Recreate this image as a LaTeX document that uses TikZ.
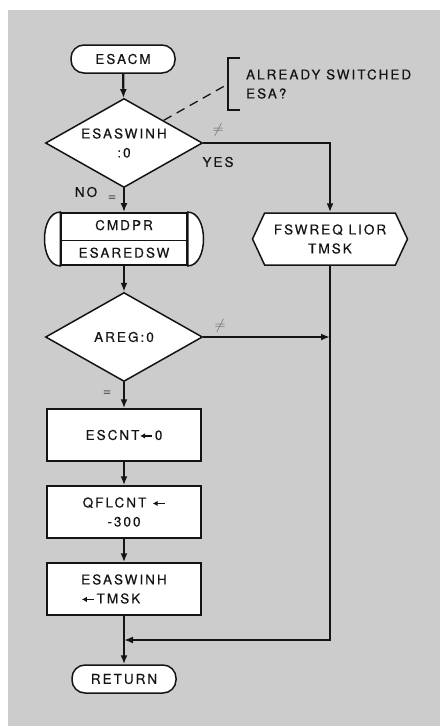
\documentclass[tikz,border=0pt]{standalone}
\usepackage{fontspec}
\setmainfont{TeX Gyre Heros}[LetterSpace=15, FakeBold=0.4]
\usetikzlibrary{shapes.geometric,shapes.symbols,shapes.multipart,arrows.meta}
\definecolor{paper}{RGB}{204,204,204}
\definecolor{ink}{RGB}{20,20,20}
% assignment arrow as printed in the boxes
\newcommand{\asgn}{\tikz[baseline=-4pt]\draw[ink, line width=1.2pt, {Latex[length=5pt,width=5.5pt]}-] (0pt,0pt) -- (12pt,0pt);}

\begin{document}
\begin{tikzpicture}[x=1pt, y=-1pt, >={Latex[length=9pt,width=7pt]}, line width=2.2pt, draw=ink,
	every node/.style={font=\fontsize{13.5}{19}\selectfont, text=ink, align=center},
	term/.style={draw, fill=white, line width=1.5pt, rounded corners=13pt, minimum width=104pt, minimum height=28pt, inner sep=0pt},
	decision/.style={diamond, draw, fill=white, line width=1.5pt, aspect=1.76, minimum width=157pt, minimum height=89pt, inner sep=0pt},
	proc/.style={rectangle, draw, fill=white, line width=1.5pt, minimum width=154pt, minimum height=52pt, inner sep=0pt},
	predef/.style={rectangle split, rectangle split parts=2, draw, fill=white, line width=1.5pt, minimum width=126pt, text height=10pt, text depth=3pt, inner ysep=6.5pt, inner xsep=0pt},
	prep/.style={signal, signal to=west and east, signal from=nowhere, signal pointer angle=130, draw, fill=white, line width=1.5pt, minimum width=155pt, minimum height=52pt, inner sep=0pt},
	lbl/.style={inner sep=1pt},
	sign/.style={inner sep=1pt, text=gray!75!black, font=\fontsize{14}{16}\selectfont}]
	% page
	\useasboundingbox (0,0) rectangle (440,726);
	\fill[paper] (8,10) rectangle (440,726);
	
	% main column
	\node[term] (start) at (123,59) {ESACM};
	\node[decision] (test1) at (124,143) {ESASWINH\\:0};
	\node[predef] (sub) at (124,239) {CMDPR\nodepart{two}ESAREDSW};
	\draw[fill=white, line width=1.5pt] (sub.north west) .. controls +(-21,0) and +(-21,0) .. (sub.south west) -- cycle;
	\draw[fill=white, line width=1.5pt] (sub.north east) .. controls +(21,0) and +(21,0) .. (sub.south east) -- cycle;
	\node[decision] (test2) at (124,337) {AREG:0};
	\node[proc] (clr) at (124,435) {ESCNT\asgn\,0};
	\node[proc] (qfl) at (124,512) {QFLCNT \asgn\\-300};
	\node[proc, align=left] (inh) at (124,589) {ESASWINH\\\asgn\,TMSK};
	\node[term] (ret) at (124,679) {RETURN};
	
	% right branch
	\node[prep] (hex) at (330,239) {FSWREQ LIOR\\TMSK};
	
	% comment bracket
	\coordinate (brk) at (228,84);
	\draw[line width=1.3pt] (240,58) -- (228,58) -- (228,110) -- (240,110);
	\draw[dashed, dash pattern=on 9pt off 6pt, line width=1.3pt] (test1.north east) -- (brk);
	\node[lbl, anchor=west, align=left] (note) at (244,84) {ALREADY SWITCHED\\ESA?};
	
	% connectors
	\draw[->] (start) -- (test1);
	\draw[->] (test1) -- (sub);
	\draw[->] (test1.east) -| (hex.north);
	\draw[->] (sub) -- (test2);
	\draw[->] (test2) -- (clr);
	\draw[->] (clr) -- (qfl);
	\draw[->] (qfl) -- (inh);
	\draw[->] (inh) -- (ret);
	\coordinate (join) at (hex.south |- test2.east);
	\draw[->] (test2.east) -- (join);
	\coordinate (corner) at (330,640);
	\coordinate (merge) at (inh.south |- corner);
	\draw[->] (hex.south) -- (corner) -- (merge);
	
	% branch labels
	\node[sign] (ne1) at (218,130) {$\neq$};
	\node[lbl] (yes) at (218,162) {YES};
	\node[lbl] (no) at (86,192) {NO};
	\node[sign] (eq1) at (112,198) {=};
	\node[sign] (ne2) at (220,326) {$\neq$};
	\node[sign] (eq2) at (107,393) {=};
\end{tikzpicture}
\end{document}
